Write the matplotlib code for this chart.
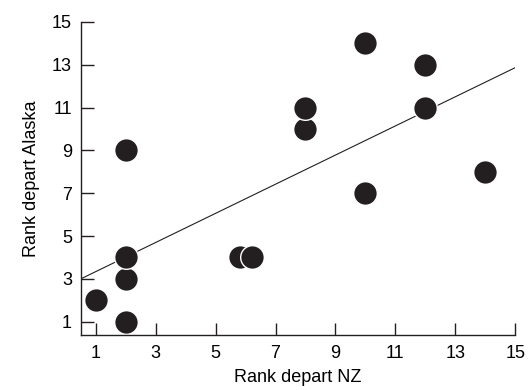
import numpy as np
import matplotlib.pyplot as plt

plt.rcParams['font.family'] = ['Liberation Sans', 'DejaVu Sans']

# Datos: rango de salida NZ vs Alaska
rank_nz = [1, 2, 2, 2, 2, 5.8, 6.2, 8, 8, 10, 10, 12, 12, 14]
rank_alaska = [2, 1, 3, 4, 9, 4, 4, 10, 11, 14, 7, 13, 11, 8]

# Recta de ajuste
slope = 0.68
intercept = 2.66

ticks = [1, 3, 5, 7, 9, 11, 13, 15]

fig = plt.figure(figsize=(5.3, 3.9), dpi=100)
ax = fig.add_axes([0.153, 0.141, 0.819, 0.803])

xl = np.array([0.51, 15])
ax.plot(xl, slope * xl + intercept, color='#231f20', lw=0.8, zorder=1)
ax.scatter(rank_nz, rank_alaska, s=290, color='#231f20', edgecolors='white',
           linewidths=1.0, zorder=2)

ax.set_xlim(0.51, 15)
ax.set_ylim(0.38, 15)
ax.set_xticks(ticks)
ax.set_yticks(ticks)
ax.tick_params(direction='in', length=9, width=1, color='#231f20',
               labelsize=13, pad=7.5)
ax.tick_params(axis='y', pad=6.5)
ax.spines['top'].set_visible(False)
ax.spines['right'].set_visible(False)
for s in ['left', 'bottom']:
    ax.spines[s].set_linewidth(1)
    ax.spines[s].set_color('#231f20')

ax.set_xlabel("Rank depart NZ", fontsize=13, labelpad=5)
ax.set_ylabel("Rank depart Alaska", fontsize=13, labelpad=9)

fig.savefig("out.png", dpi=100)
